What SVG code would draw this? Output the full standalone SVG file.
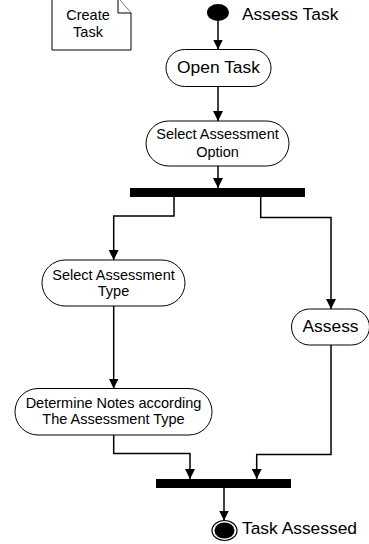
<svg xmlns="http://www.w3.org/2000/svg" width="369" height="544" viewBox="0 0 369 544">
<defs>
<style>
.node{fill:#fff;stroke:#000;stroke-width:1}
.big{font-family:"Liberation Sans",Arial,sans-serif;font-size:17.4px;fill:#000}
.small{font-family:"Liberation Sans",Arial,sans-serif;font-size:14.5px;fill:#000;text-anchor:middle}
.c{text-anchor:middle}
.conn{fill:none;stroke:#000;stroke-width:1.5}
.bar{fill:#000}
</style>
<marker id="arr" viewBox="0 0 10 10" refX="10" refY="5" markerWidth="10" markerHeight="10" markerUnits="userSpaceOnUse" orient="auto">
<path d="M0,0 L10,5 L0,10 Z" fill="#000"/>
</marker>
</defs>
<rect width="369" height="544" fill="#fff"/>
<g id="note">
<path class="node" d="M52,-2 H118 L131,13 V50 H52 Z"/>
<path class="node" d="M118,-2 V13 H131" fill="none"/>
<text class="small" x="88" y="20">Create</text>
<text class="small" x="88" y="37">Task</text>
</g>
<g id="start">
<ellipse cx="218" cy="12.5" rx="11" ry="8.5" fill="#000"/>
<text class="big" x="242" y="20">Assess Task</text>
</g>
<g id="openTask">
<rect class="node" x="166" y="49.5" width="105" height="37" rx="18.5"/>
<text class="big c" x="218.5" y="73">Open Task</text>
</g>
<g id="selectOption">
<rect class="node" x="146" y="121" width="143" height="45" rx="22.5"/>
<text class="small" x="217.5" y="139">Select Assessment</text>
<text class="small" x="217.5" y="156.5">Option</text>
</g>
<g id="fork">
<rect class="bar" x="130" y="188" width="175" height="9"/>
</g>
<g id="selectType">
<rect class="node" x="42" y="260" width="143" height="46" rx="23"/>
<text class="small" x="113.5" y="279.5">Select Assessment</text>
<text class="small" x="113.5" y="296">Type</text>
</g>
<g id="assess">
<rect class="node" x="291.5" y="309" width="78" height="36" rx="18"/>
<text class="big c" x="330.5" y="332">Assess</text>
</g>
<g id="determine">
<rect class="node" x="15" y="388.5" width="197" height="46.5" rx="23"/>
<text class="small" x="113.5" y="407.5">Determine Notes according</text>
<text class="small" x="113.5" y="424">The Assessment Type</text>
</g>
<g id="join">
<rect class="bar" x="156" y="479" width="135" height="9"/>
</g>
<g id="end">
<ellipse cx="224.5" cy="530.5" rx="12.5" ry="10" fill="#fff" stroke="#000" stroke-width="1.2"/>
<ellipse cx="224.5" cy="530.5" rx="10" ry="8" fill="#000"/>
<text class="big" x="242" y="533.5">Task Assessed</text>
</g>
<g id="connectors">
<path class="conn" d="M218,21 V49.5" marker-end="url(#arr)"/>
<path class="conn" d="M218,86.5 V121" marker-end="url(#arr)"/>
<path class="conn" d="M218,166 V188" marker-end="url(#arr)"/>
<path class="conn" d="M174,197 V216 H113.7 V260" marker-end="url(#arr)"/>
<path class="conn" d="M260.7,197 V217.5 H331 V309" marker-end="url(#arr)"/>
<path class="conn" d="M113.7,306 V388.5" marker-end="url(#arr)"/>
<path class="conn" d="M113.7,435 V453.5 H190 V479" marker-end="url(#arr)"/>
<path class="conn" d="M331,345 V454.5 H256.7 V479" marker-end="url(#arr)"/>
<path class="conn" d="M224,488 V520.5" marker-end="url(#arr)"/>
</g>
</svg>
